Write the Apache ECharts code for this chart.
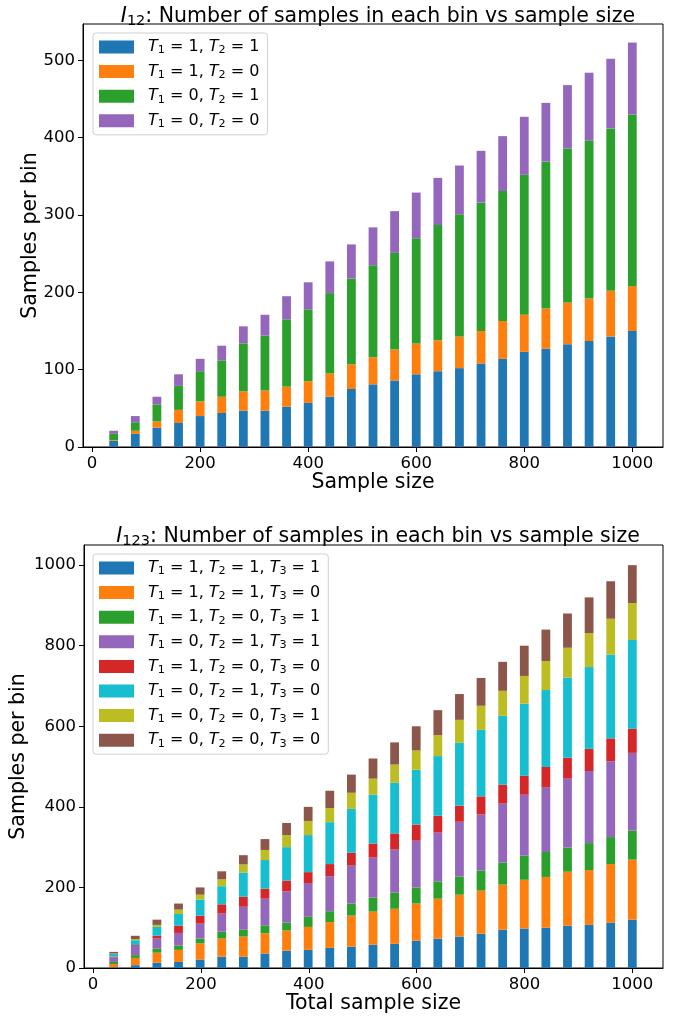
<!DOCTYPE html>
<html>
<head>
<meta charset="utf-8">
<script src="https://cdn.jsdelivr.net/npm/echarts@6/dist/echarts.min.js"></script>
<style>
html,body{margin:0;padding:0;background:#fff;}
#chart{width:690px;height:1021px;}
</style>
</head>
<body>
<div id="chart"></div>
<script>
const sampleSizes = [40,80,120,160,200,240,280,320,360,400,440,480,520,560,600,640,680,720,760,800,840,880,920,960,1000];

const topNames = ['T1 = 1, T2 = 1','T1 = 1, T2 = 0','T1 = 0, T2 = 1','T1 = 0, T2 = 0'];
const top11 = [8,17,25,31,40,44,47,47,52,57,65,75,81,86,94,98,102,108,114,123,127,133,137,143,150];
const top10 = [1,4,8,17,19,21,25,26,26,28,30,32,35,40,40,40,41,42,49,48,52,54,55,59,58];
const top01 = [8,11,22,31,39,47,62,71,87,93,104,111,119,125,136,149,158,166,168,181,190,199,204,210,222];
const top00 = [4,8,10,15,16,19,22,27,30,35,41,44,49,54,59,61,63,67,71,75,76,82,88,90,93];

const botNames = ['T1 = 1, T2 = 1, T3 = 1','T1 = 1, T2 = 1, T3 = 0','T1 = 1, T2 = 0, T3 = 1','T1 = 0, T2 = 1, T3 = 1',
                  'T1 = 1, T2 = 0, T3 = 0','T1 = 0, T2 = 1, T3 = 0','T1 = 0, T2 = 0, T3 = 1','T1 = 0, T2 = 0, T3 = 0'];
const bot111 = [2,7,13,15,21,28,28,36,43,45,50,53,58,60,68,73,78,85,95,98,100,105,107,112,120];
const bot110 = [8,18,25,30,40,45,50,50,50,57,64,77,82,87,92,99,104,107,112,121,126,134,136,146,149];
const bot101 = [5,7,10,11,12,17,17,20,20,25,27,30,35,40,40,43,45,50,55,60,62,60,67,67,72];
const bot011 = [11,23,25,31,37,45,57,66,77,84,87,94,99,107,116,121,136,139,146,151,161,171,179,188,193];
const bot100 = [2,2,7,18,20,23,25,25,27,27,30,32,35,40,40,42,40,45,47,47,50,52,55,57,60];
const bot010 = [7,12,22,29,40,45,60,71,83,92,104,109,121,126,136,148,156,165,171,179,191,199,203,208,220];
const bot001 = [1,3,5,11,12,17,20,25,30,35,35,40,40,45,48,52,57,60,62,69,72,74,84,89,92];
const bot000 = [4,8,13,15,18,20,23,27,30,35,43,45,50,55,60,62,64,69,72,75,78,85,89,93,94];

const xTicks = [0,200,400,600,800,1000];
const yTicksTop = [0,100,200,300,400,500];
const yTicksBot = [0,200,400,600,800,1000];

const topTitle = '{i|I}{s|12}: Number of samples in each bin vs sample size';
const botTitle = '{i|I}{s|123}: Number of samples in each bin vs sample size';

const colors4 = ['#1f77b4','#ff7f0e','#2ca02c','#9467bd'];
const colors8 = ['#1f77b4','#ff7f0e','#2ca02c','#9467bd','#d62728','#17becf','#bcbd22','#8c564b'];

const FONT = 'DejaVu Sans';
// layout
const X_MIN = -16.8, X_MAX = 1056.8, STEP = 40;
const G_LEFT = 83, G_WIDTH = 580, G_H = 423, TOP1 = 24, TOP2 = 545;
const pxPerUnit = G_WIDTH / (X_MAX - X_MIN);
const barGridLeft = G_LEFT + (sampleSizes[0] - STEP/2 - X_MIN) * pxPerUnit;
const barGridWidth = sampleSizes.length * STEP * pxPerUnit;
const BAR_W = 8.8;

const chart = echarts.init(document.getElementById('chart'), null, {renderer:'canvas'});

function xAxisDef(gi, name){
  return {
    type:'value', gridIndex:gi, min:X_MIN, max:X_MAX,
    name:name, nameLocation:'middle', nameGap:25, nameMoveOverlap:false,
    nameTextStyle:{fontFamily:FONT, fontSize:20.5, color:'#000'},
    axisLine:{show:true, onZero:false, lineStyle:{color:'#000', width:1}},
    axisTick:{show:true, length:5, lineStyle:{color:'#000'}, customValues:xTicks},
    axisLabel:{show:true, fontFamily:FONT, fontSize:16.5, color:'#000', margin:8, customValues:xTicks,
               hideOverlap:false, formatter:v=>String(v)},
    splitLine:{show:false}
  };
}
function yAxisDef(gi, max, ticks, gap){
  return {
    type:'value', gridIndex:gi, min:0, max:max,
    name:'Samples per bin', nameLocation:'middle', nameGap:gap, nameMoveOverlap:false,
    nameTextStyle:{fontFamily:FONT, fontSize:20.5, color:'#000'},
    axisLine:{show:true, onZero:false, lineStyle:{color:'#000', width:1}},
    axisTick:{show:true, length:5, lineStyle:{color:'#000'}, customValues:ticks},
    axisLabel:{show:true, fontFamily:FONT, fontSize:16.5, color:'#000', margin:8, customValues:ticks,
               formatter:v=>String(v)},
    splitLine:{show:false}
  };
}
function hiddenCat(gi){
  return {type:'category', gridIndex:gi, data:sampleSizes.map(String), boundaryGap:true,
          axisLine:{show:false}, axisTick:{show:false}, axisLabel:{show:false}, splitLine:{show:false}};
}
function hiddenVal(gi, max){
  return {type:'value', gridIndex:gi, min:0, max:max,
          axisLine:{show:false}, axisTick:{show:false}, axisLabel:{show:false}, splitLine:{show:false}};
}
function legendFmt(name){
  return '{p|}' + name.replace(/T(\d)/g, '{i|T}{s|$1}');
}
const legendRich = {
  p:{width:9, fontSize:16, lineHeight:14},
  i:{fontStyle:'italic', fontFamily:FONT, fontSize:16, color:'#000', lineHeight:14},
  s:{fontFamily:FONT, fontSize:11.2, color:'#000', lineHeight:14, padding:[7,0,0,0]}
};
function legendDef(names, top){
  return {
    data:names, orient:'vertical', left:93, top:top,
    itemWidth:35, itemHeight:13, itemGap:6.6, icon:'rect',
    padding:[5,8,5,6],
    backgroundColor:'rgba(255,255,255,0.8)', borderColor:'#d0d0d0', borderWidth:1, borderRadius:3,
    selectedMode:false,
    formatter:legendFmt,
    textStyle:{fontFamily:FONT, fontSize:16, color:'#000', lineHeight:14, rich:legendRich}
  };
}
const titleRich = {
  i:{fontStyle:'italic', fontFamily:FONT, fontSize:20.5, color:'#000'},
  s:{fontFamily:FONT, fontSize:14.5, color:'#000', padding:[9,0,0,0]}
};

const series = [];
const topVals = [top11, top10, top01, top00];
topVals.forEach((v,k)=>{
  series.push({type:'bar', name:topNames[k], xAxisIndex:2, yAxisIndex:2, stack:'top',
    data:v, barWidth:BAR_W, itemStyle:{color:colors4[k]}, emphasis:{disabled:true}, animation:false});
});
const botVals = [bot111, bot110, bot101, bot011, bot100, bot010, bot001, bot000];
botVals.forEach((v,k)=>{
  series.push({type:'bar', name:botNames[k], xAxisIndex:3, yAxisIndex:3, stack:'bot',
    data:v, barWidth:BAR_W, itemStyle:{color:colors8[k]}, emphasis:{disabled:true}, animation:false});
});

chart.setOption({
  backgroundColor:'#fff',
  animation:false,
  title:[
    {text:topTitle, left:373, top:0, textAlign:'center',
     textStyle:{fontFamily:FONT, fontSize:20.5, fontWeight:'normal', color:'#000', rich:titleRich}},
    {text:botTitle, left:373, top:520, textAlign:'center',
     textStyle:{fontFamily:FONT, fontSize:20.5, fontWeight:'normal', color:'#000', rich:titleRich}}
  ],
  grid:[
    {left:G_LEFT, width:G_WIDTH, top:TOP1, height:G_H, show:true, borderColor:'#000', borderWidth:1, backgroundColor:'#fff'},
    {left:G_LEFT, width:G_WIDTH, top:TOP2, height:G_H, show:true, borderColor:'#000', borderWidth:1, backgroundColor:'#fff'},
    {left:barGridLeft, width:barGridWidth, top:TOP1, height:G_H, show:false},
    {left:barGridLeft, width:barGridWidth, top:TOP2, height:G_H, show:false}
  ],
  xAxis:[xAxisDef(0,'Sample size'), xAxisDef(1,'Total sample size'), hiddenCat(2), hiddenCat(3)],
  yAxis:[yAxisDef(0,547,yTicksTop,42), yAxisDef(1,1050,yTicksBot,55), hiddenVal(2,547), hiddenVal(3,1050)],
  legend:[legendDef(topNames,33), legendDef(botNames,554)],
  series:series
});
</script>
</body>
</html>
